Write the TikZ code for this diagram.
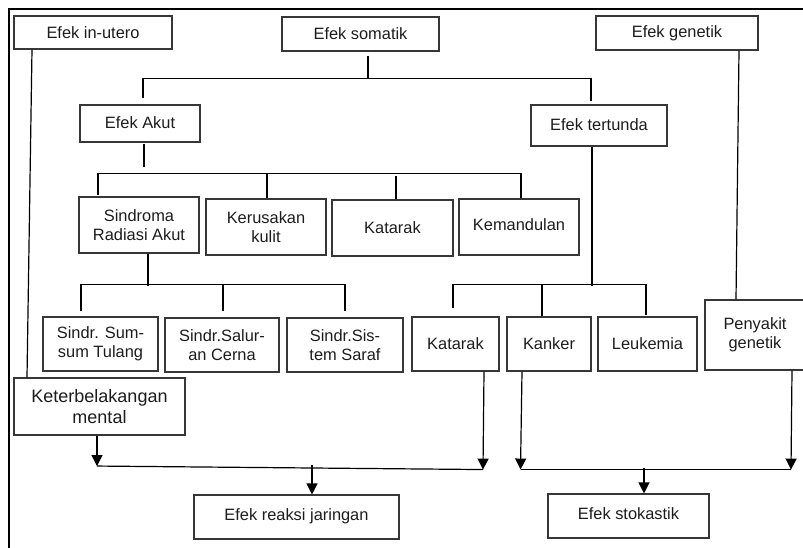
\documentclass[tikz,border=0pt]{standalone}
\usepackage{fontspec}
\setmainfont{Liberation Sans}
\usetikzlibrary{arrows.meta,calc}
\definecolor{ink}{RGB}{28,28,28}
\definecolor{edge}{RGB}{55,55,55}
\begin{document}
\begin{tikzpicture}[x=1pt,y=-1pt,
  box/.style={draw=edge,line width=1.1pt,inner sep=0pt,align=center,text=ink,
              font=\fontsize{16.4}{19}\selectfont},
  bigbox/.style={box,font=\fontsize{18}{21}\selectfont},
  link/.style={line width=1.2pt,draw=black},
  arr/.style={link,-{Triangle[length=11pt,width=11pt]}}]
\useasboundingbox (0,0) rectangle (803,548);

% outer frame (top and left edges)
\draw[link] (803,9) -- (9,9) -- (9,548);

% top row
\node[box,minimum width=158pt,minimum height=33pt] (inu) at (93,32.5) {Efek in-utero};
\node[box,minimum width=157pt,minimum height=34pt] (som) at (360.5,34) {Efek somatik};
\node[box,minimum width=162pt,minimum height=34pt] (gen) at (677,33) {Efek genetik};

% second row
\node[box,minimum width=120pt,minimum height=37pt] (akut) at (140,123.5) {\raisebox{2pt}{Efek Akut}};
\node[box,minimum width=136pt,minimum height=41pt] (tert) at (599,125.5) {\raisebox{2pt}{Efek tertunda}};

% acute effects
\node[box,minimum width=120pt,minimum height=56pt] (sra) at (139,225) {Sindroma\\Radiasi Akut};
\node[box,minimum width=120pt,minimum height=56pt] (kulit) at (266,227) {Kerusakan\\kulit};
\node[box,minimum width=121pt,minimum height=56pt] (kat1) at (392.5,228) {Katarak};
\node[box,minimum width=120pt,minimum height=56pt] (mand) at (519,227) {\raisebox{4pt}{Kemandulan}};

% syndromes
\node[box,minimum width=115pt,minimum height=54pt] (sst) at (100.5,344) {Sindr. Sum-\\sum Tulang};
\node[box,minimum width=114pt,minimum height=54pt] (sac) at (222,345) {Sindr.Salur-\\an Cerna};
\node[box,minimum width=116pt,minimum height=54pt] (sss) at (345,345) {Sindr.Sis-\\tem Saraf};

% delayed effects
\node[box,minimum width=87pt,minimum height=54pt] (kat2) at (455.5,344) {Katarak};
\node[box,minimum width=84pt,minimum height=54pt] (kank) at (549,344) {Kanker};
\node[box,minimum width=99pt,minimum height=54pt] (leuk) at (647.5,344) {Leukemia};
\node[box,minimum width=100pt,minimum height=70pt] (peny) at (755,335) {Penyakit\\genetik};

\node[bigbox,minimum width=171pt,minimum height=57pt] (ket) at (99.5,406.5) {Keterbelakangan\\mental};

% outcomes
\node[box,minimum width=205pt,minimum height=44pt] (rj) at (296.5,517) {\raisebox{4pt}{Efek reaksi jaringan}};
\node[box,minimum width=161pt,minimum height=44pt] (sto) at (628.5,516) {\raisebox{5pt}{Efek stokastik}};

% in-utero branch
\draw[link] ($(inu.south)+(-61,0)$) -- ($(ket.north)+(-72.5,0)$);

% somatic split
\draw[link] ($(som.south)+(7.5,4)$) -- ($(som.south)+(7.5,27)$);
\draw[link] ($(akut.north)+(3,-6)$) |- ($(som.south)+(7.5,27)$) -| ($(tert.north)+(-8,-3)$);

% acute effects split
\draw[link] ($(akut.south)+(4,1)$) -- ++(0,23);
\draw[link] ($(sra.north)+(-41,-1)$) |- ($(mand.north)+(2,-25)$) -- ($(mand.north)+(2,0)$);
\draw[link] ($(kulit.north)+(1,0)$) -- ++(0,-25);
\draw[link] ($(kat1.north)+(3.5,0)$) -- ++(0,-23);

% syndrome split
\draw[link] ($(sra.south)+(9,0)$) -- ++(0,32);
\draw[link] ($(sst.north)+(-19.5,-5)$) |- ($(sss.north)+(0,-33)$) -- ($(sss.north)+(0,-6)$);
\draw[link] ($(sac.north)+(1,-6)$) -- ++(0,-27);

% delayed effects split
\draw[link] ($(tert.south)+(-7,0)$) -- ++(0,139);
\draw[link] ($(kat2.north)+(-2.5,-8)$) |- ($(leuk.north)+(-1.5,-32)$) -- ($(leuk.north)+(-1.5,-1)$);
\draw[link] ($(kank.north)+(-7,0)$) -- ++(0,-32);

% genetic branch
\draw[link] ($(gen.south)+(62,0)$) -- ($(peny.north)+(-19,0)$);

% tissue reaction collector
\draw[arr] ($(ket.south)+(-2.5,0)$) -- ++(0,30.5);
\draw[arr] ($(kat2.south)+(28.5,0)$) -- ++(-1,98);
\draw[link] ($(ket.south)+(-2.5,30.5)$) -- ($(kat2.south)+(27.5,98)$);
\draw[arr] ($(rj.north)+(15.5,-29)$) -- ($(rj.north)+(15.5,0)$);

% stochastic collector
\draw[arr] ($(kank.south)+(-27,0)$) -- ++(-1.5,98);
\draw[arr] ($(peny.south)+(37,0)$) -- ++(-1,99);
\draw[link] ($(kank.south)+(-28.5,98)$) -- ($(peny.south)+(36,99)$);
\draw[arr] ($(sto.north)+(15.5,-25)$) -- ($(sto.north)+(15.5,0)$);
\end{tikzpicture}
\end{document}
